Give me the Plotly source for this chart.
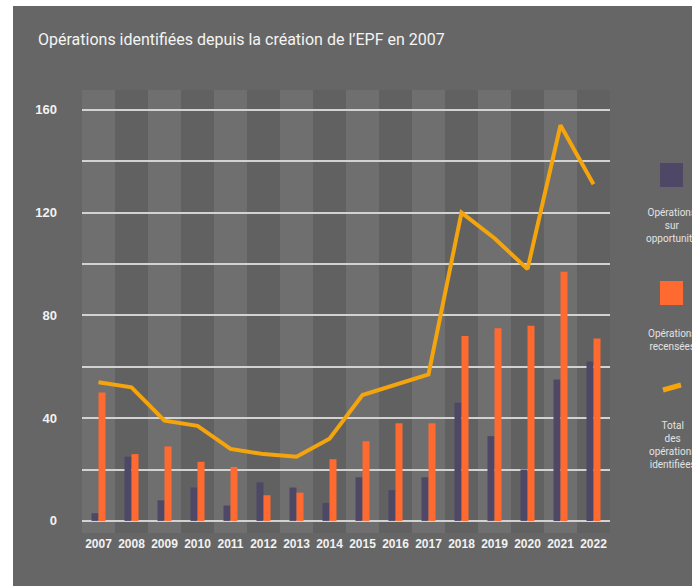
import plotly.graph_objects as go

years = [str(y) for y in range(2007, 2023)]
opportunite = [3, 25, 8, 13, 6, 15, 13, 7, 17, 12, 17, 46, 33, 20, 55, 62]
recensees = [50, 26, 29, 23, 21, 10, 11, 24, 31, 38, 38, 72, 75, 76, 97, 71]
total = [54, 52, 39, 37, 28, 26, 25, 32, 49, 53, 57, 120, 110, 98, 154, 131]
y_tickvals = [0, 20, 40, 60, 80, 100, 120, 140, 160]
y_ticktext = ["0", "", "40", "", "80", "", "120", "", "160"]

title_text = "Opérations identifiées depuis la création de l’EPF en 2007"
legend_labels = ["Opérations<br>sur<br>opportunité", "Opérations<br>recensées",
                 "Total<br>des<br>opérations<br>identifiées"]

PURPLE = "#4e4866"
ORANGE = "#ff6a30"
AMBER = "#f4a40c"
BG = "#666666"

W, H = 692, 586
L, R, T, B = 82, 82, 90, 53
PW = W - L - R
PH = H - T - B

def px(x):
    return (x - L) / PW

def py(y):
    return (H - B - y) / PH

fig = go.Figure()
fig.add_trace(go.Bar(x=years, y=opportunite, marker_color=PURPLE, marker_line_width=0,
                     name="Opérations sur opportunité"))
fig.add_trace(go.Bar(x=years, y=recensees, marker_color=ORANGE, marker_line_width=0,
                     name="Opérations recensées"))
fig.add_trace(go.Scatter(x=years, y=total, mode="lines",
                         line=dict(color=AMBER, width=4, shape="linear"),
                         name="Total des opérations identifiées"))

shapes = []
# outer gray panel (white strip at top/left)
shapes.append(dict(type="rect", xref="paper", yref="paper", x0=px(13), x1=px(W + 5),
                   y0=py(H + 5), y1=py(6), fillcolor=BG, line_width=0, layer="below"))
# alternating column bands
for i in range(len(years)):
    shapes.append(dict(type="rect", xref="x", yref="paper", x0=i - 0.5, x1=i + 0.5,
                       y0=0, y1=1, fillcolor="#6f6f6f" if i % 2 == 0 else "#616161",
                       line_width=0, layer="below"))
# legend squares
shapes.append(dict(type="rect", xref="paper", yref="paper", x0=px(660), x1=px(683),
                   y0=py(187), y1=py(163), fillcolor=PURPLE, line_width=0))
shapes.append(dict(type="rect", xref="paper", yref="paper", x0=px(660), x1=px(683),
                   y0=py(305), y1=py(281), fillcolor=ORANGE, line_width=0))
# legend line icon
shapes.append(dict(type="line", xref="paper", yref="paper",
                   x0=px(663), y0=py(390), x1=px(681), y1=py(385),
                   line=dict(color=AMBER, width=5)))

annotations = [
    dict(text=title_text, xref="paper", yref="paper", x=px(36), y=py(40),
         xanchor="left", yanchor="middle", showarrow=False,
         font=dict(family="Roboto", size=16, color="#f4f4f4")),
    dict(text=legend_labels[0], xref="paper", yref="paper", x=px(672), y=py(205),
         xanchor="center", yanchor="top", showarrow=False, align="center",
         font=dict(family="Roboto", size=10, color="#e2e2e2")),
    dict(text=legend_labels[1], xref="paper", yref="paper", x=px(672), y=py(326),
         xanchor="center", yanchor="top", showarrow=False, align="center",
         font=dict(family="Roboto", size=10, color="#e2e2e2")),
    dict(text=legend_labels[2], xref="paper", yref="paper", x=px(672), y=py(418),
         xanchor="center", yanchor="top", showarrow=False, align="center",
         font=dict(family="Roboto", size=10, color="#e2e2e2")),
]

fig.update_layout(
    width=W, height=H,
    margin=dict(l=L, r=R, t=T, b=B, pad=0),
    paper_bgcolor="white", plot_bgcolor="rgba(0,0,0,0)",
    barmode="group", bargap=0.575, bargroupgap=0,
    showlegend=False,
    shapes=shapes, annotations=annotations,
    xaxis=dict(type="category", range=[-0.5, len(years) - 0.5], showgrid=False,
               zeroline=False, showline=False, ticks="", ticklabelstandoff=2,
               tickfont=dict(family="Liberation Sans", size=12, color="#f2f2f2", weight="bold")),
    yaxis=dict(range=[-4.7, 167.7], tickvals=y_tickvals, ticktext=y_ticktext,
               showgrid=True, gridcolor="#d2d2d2", gridwidth=2, zeroline=False,
               showline=False, ticks="", ticklabelstandoff=24,
               tickfont=dict(family="Liberation Sans", size=13, color="#f2f2f2", weight="bold")),
)

fig.write_html("out.html")
